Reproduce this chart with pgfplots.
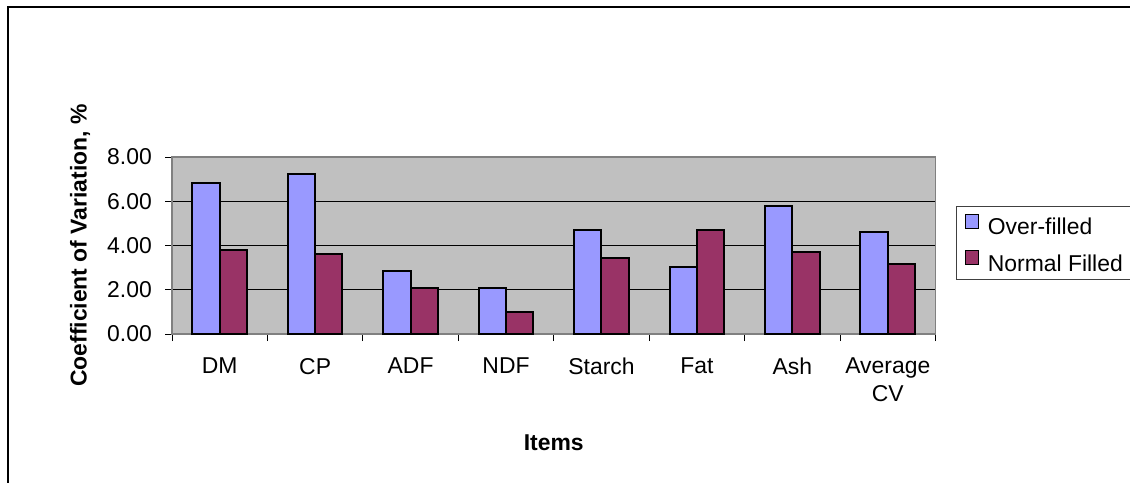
\documentclass[border=0pt]{standalone}
\usepackage{fontspec}
\setmainfont{Liberation Sans}
\usepackage{pgfplots}
\pgfplotsset{compat=1.18}

\definecolor{overfill}{HTML}{9999FF}
\definecolor{normfill}{HTML}{993366}
\definecolor{plotbg}{HTML}{C0C0C0}
\definecolor{frameg}{HTML}{808080}
\newcommand\cf{\fontsize{23}{27.6}\selectfont}

\begin{document}
\begin{tikzpicture}[x=1bp,y=1bp]
\useasboundingbox (0,0) rectangle (1130,-483);
% outer chart frame
\draw[line width=2bp] (8,-600) -- (8,-7) -- (1300,-7);
\begin{axis}[
  at={(172bp,-334bp)}, anchor=south west,
  scale only axis, width=763.5bp, height=177bp,
  ybar=0pt, bar width=27.3bp,
  xmin=-0.5, xmax=7.5, ymin=0, ymax=8,
  axis background/.style={fill=plotbg},
  axis line style={draw=frameg, line width=1.5bp},
  ytick={0,2,4,6,8},
  ymajorgrids, grid style={black, line width=1bp},
  tick align=outside, major tick length=7bp,
  tick style={black, line width=1bp},
  xtick pos=bottom, ytick pos=left,
  xtick={-0.5,0.5,...,7.5}, xticklabels={},
  extra x ticks={0,1,2,3,4,5,6,7},
  extra x tick labels={DM,CP,ADF,NDF,Starch,Fat,Ash,{Average\\CV}},
  extra x tick style={major tick length=0pt, grid=none},
  x tick label style={font=\cf, inner sep=0bp, yshift=-24bp, align=center},
  y tick label style={font=\cf, inner sep=0bp, xshift=-13bp,
    /pgf/number format/.cd, fixed, fixed zerofill, precision=2, assume math mode=true},
  ylabel={\bfseries Coefficient of Variation, \%},
  ylabel style={font=\cf, at={(axis description cs:-0.1205,0.5)}, anchor=center},
  xlabel={\bfseries Items},
  xlabel style={font=\cf, at={(axis description cs:0.5,-0.6158)}, anchor=center},
  legend style={at={(axis description cs:1.0269,0.7232)}, anchor=north west,
    draw=black!75, line width=1.2bp, fill=white, font=\cf,
    inner xsep=8bp, inner ysep=7bp, row sep=14bp, column sep=9bp,
    nodes={inner sep=0bp}},
  legend cell align=left,
  legend image code/.code={\draw[#1,/tikz/.cd,draw=black,line width=1.2bp] (0bp,-1bp) rectangle (13bp,13bp);},
]
\addplot[fill=overfill, draw=black, line width=2bp] coordinates {
  (0,6.82) (1,7.24) (2,2.85) (3,2.10) (4,4.71) (5,3.02) (6,5.79) (7,4.62)};
\addplot[fill=normfill, draw=black, line width=2bp] coordinates {
  (0,3.79) (1,3.61) (2,2.10) (3,1.01) (4,3.44) (5,4.71) (6,3.70) (7,3.18)};
\legend{Over-filled, Normal Filled}
\end{axis}
\end{tikzpicture}
\end{document}
